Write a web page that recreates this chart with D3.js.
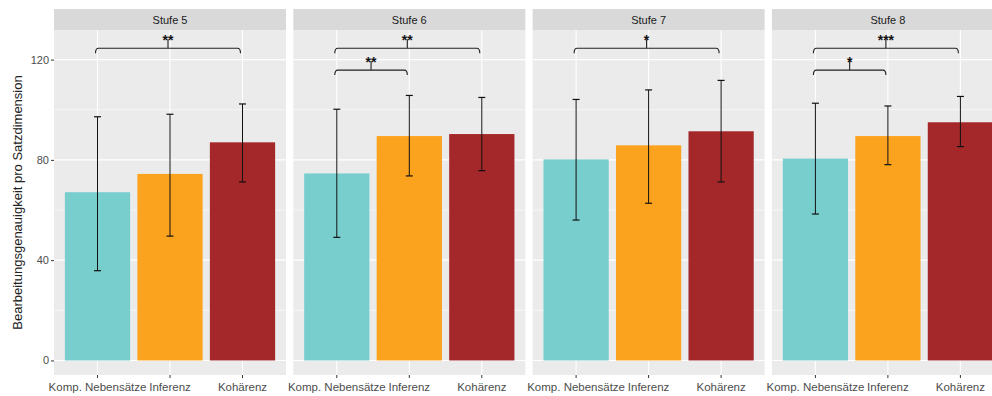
<!DOCTYPE html>
<html><head><meta charset="utf-8">
<script src="https://cdn.jsdelivr.net/npm/d3@7"></script>
<style>body{margin:0;background:#fff;} text{font-family:"Liberation Sans",Arial,sans-serif;}</style>
</head><body><svg id="c" width="992" height="396"></svg>
<script>
const categories = ["Komp. Nebensätze", "Inferenz", "Kohärenz"];
const panels = ["Stufe 5", "Stufe 6", "Stufe 7", "Stufe 8"];
const means = [[67.1, 74.4, 87.0],[74.6, 89.5, 90.3],[80.2, 85.8, 91.4],[80.5, 89.5, 95.0]];
const upper = [[97.2, 98.2, 102.3],[100.2, 105.7, 104.9],[104.1, 107.9, 111.7],[102.6, 101.5, 105.3]];
const lower = [[35.8, 49.6, 71.2],[49.1, 73.6, 75.7],[56.0, 62.7, 71.2],[58.4, 78.1, 85.3]];
// significance brackets
const sigPanel = [0, 1, 1, 2, 3, 3];
const sigFrom = [0, 0, 0, 0, 0, 0];
const sigTo = [2, 2, 1, 2, 2, 1];
const sigY = [124.5, 124.5, 115.8, 124.5, 124.5, 115.8];
const sigLabel = ["**", "**", "**", "*", "***", "*"];
const yTicks = [0, 40, 80, 120];
const yMinor = [20, 60, 100];
const colors = ["#78cecd", "#fba31f", "#a4282a"];

(function () {
const svg = d3.select("#c");
const panelW = 232, gap = 7.3, x0 = 54, pTop = 30, pBottom = 375, stripTop = 9;
const y = d3.scaleLinear().domain([-5.8, 131.8]).range([pBottom, pTop]);

panels.forEach((p, i) => {
  const left = x0 + i * (panelW + gap);
  const g = svg.append("g").attr("transform", `translate(${left},0)`);
  const x = d3.scaleBand().domain(categories).range([0, panelW]).paddingInner(0.1).paddingOuter(0.15);
  const cx = c => x(c) + x.bandwidth() / 2;
  g.append("rect").attr("x", 0).attr("y", stripTop).attr("width", panelW).attr("height", pTop - stripTop).attr("fill", "#d9d9d9");
  g.append("text").attr("x", panelW / 2).attr("y", (stripTop + pTop) / 2 + 4).attr("text-anchor", "middle")
    .attr("font-size", 11).attr("fill", "#1a1a1a").text(p);
  g.append("rect").attr("x", 0).attr("y", pTop).attr("width", panelW).attr("height", pBottom - pTop).attr("fill", "#ebebeb");
  yMinor.forEach(v => g.append("line").attr("x1", 0).attr("x2", panelW).attr("y1", y(v)).attr("y2", y(v)).attr("stroke", "#fff").attr("stroke-width", 0.6));
  yTicks.forEach(v => g.append("line").attr("x1", 0).attr("x2", panelW).attr("y1", y(v)).attr("y2", y(v)).attr("stroke", "#fff").attr("stroke-width", 1.1));
  categories.forEach(c => g.append("line").attr("x1", cx(c)).attr("x2", cx(c)).attr("y1", pTop).attr("y2", pBottom).attr("stroke", "#fff").attr("stroke-width", 1.1));
  g.selectAll("rect.bar").data(categories).enter().append("rect").attr("class", "bar")
    .attr("x", c => x(c)).attr("width", x.bandwidth())
    .attr("y", (c, j) => y(means[i][j])).attr("height", (c, j) => y(0) - y(means[i][j]))
    .attr("fill", (c, j) => colors[j]);
  categories.forEach((c, j) => {
    const xc = cx(c);
    g.append("line").attr("x1", xc).attr("x2", xc).attr("y1", y(upper[i][j])).attr("y2", y(lower[i][j])).attr("stroke", "#111").attr("stroke-width", 1);
    [upper[i][j], lower[i][j]].forEach(v => g.append("line").attr("x1", xc - 3.5).attr("x2", xc + 3.5).attr("y1", y(v)).attr("y2", y(v)).attr("stroke", "#111").attr("stroke-width", 1.2));
  });
  const xa = svg.append("g").attr("transform", `translate(${left},${pBottom})`).call(d3.axisBottom(x).tickSize(3).tickPadding(5));
  xa.select(".domain").remove();
  xa.selectAll(".tick line").attr("stroke", "#333");
  xa.selectAll(".tick text").attr("font-size", 11.5).attr("fill", "#4d4d4d").attr("font-family", "Liberation Sans, Arial, sans-serif");
  sigPanel.forEach((pi, k) => {
    if (pi !== i) return;
    const xa1 = cx(categories[sigFrom[k]]) - 2, xb = cx(categories[sigTo[k]]) - 2;
    const yl = y(sigY[k]), tip = 5, tk = 9;
    const xm = (xa1 + xb) / 2;
    g.append("path").attr("d", `M${xa1},${yl + tip} Q${xa1},${yl} ${xa1 + 3},${yl} L${xb - 3},${yl} Q${xb},${yl} ${xb},${yl + tip} M${xm},${yl} L${xm},${yl - tk}`)
      .attr("fill", "none").attr("stroke", "#222").attr("stroke-width", 1.1);
    g.append("text").attr("x", xm).attr("y", yl - tk + 6).attr("text-anchor", "middle").attr("font-size", 14).attr("font-weight", "bold").attr("fill", "#111").text(sigLabel[k]);
  });
});
const ya = svg.append("g").attr("transform", `translate(${x0},0)`).call(d3.axisLeft(y).tickValues(yTicks).tickSize(3).tickPadding(2));
ya.select(".domain").remove();
ya.selectAll(".tick line").attr("stroke", "#333");
ya.selectAll(".tick text").attr("font-size", 11).attr("fill", "#4d4d4d").attr("font-family", "Liberation Sans, Arial, sans-serif");
svg.append("text").attr("transform", `translate(22,${(pTop + pBottom) / 2}) rotate(-90)`).attr("text-anchor", "middle")
  .attr("font-size", 13).attr("fill", "#222").text("Bearbeitungsgenauigkeit pro Satzdimension");
})();
</script></body></html>
